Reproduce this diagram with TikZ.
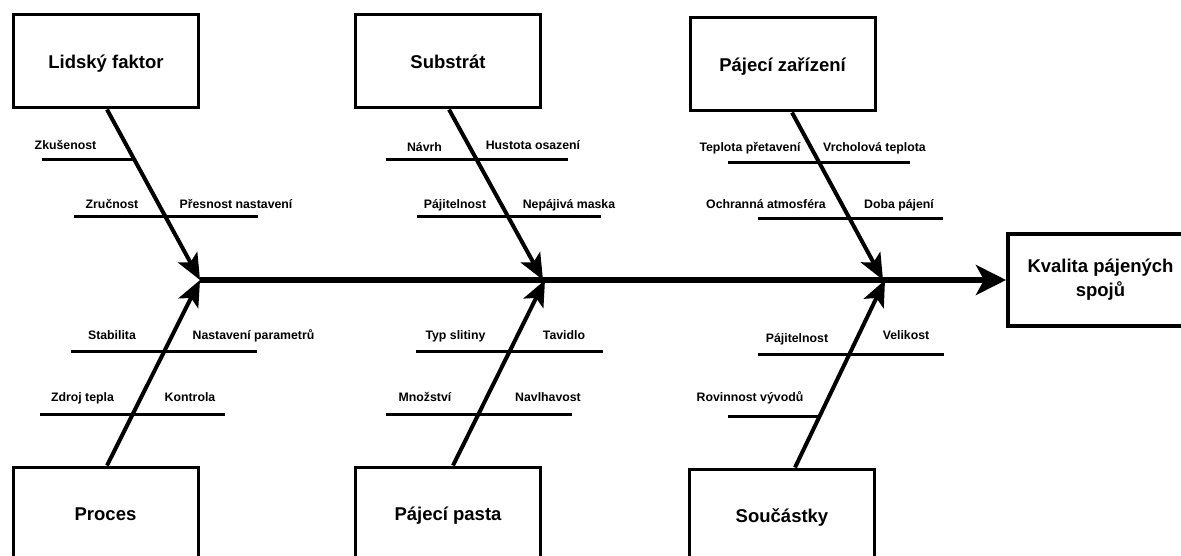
\documentclass[tikz,border=0pt]{standalone}
\usepackage{fontspec}
\setmainfont{Liberation Sans}
\usetikzlibrary{arrows.meta,calc}
\begin{document}
\begin{tikzpicture}[x=1pt,y=-1pt,
  cat/.style={draw, line width=3pt, minimum width=185pt, minimum height=93pt, inner sep=0pt,
    font=\fontsize{18.5}{22}\selectfont\bfseries, text height=13.3pt, text depth=0pt},
  lab/.style={font=\fontsize{12.3}{14}\selectfont\bfseries, anchor=base, inner sep=0pt},
  sub/.style={line width=3pt},
  bone/.style={line width=4pt, -{Stealth[length=26pt,width=22pt,inset=6pt]}},
  spine/.style={line width=6pt, -{Stealth[length=30pt,width=30pt,inset=8pt]}}]
\useasboundingbox (0,0) rectangle (1181,556);
\clip (0,0) rectangle (1181,556);

% category boxes
\node[cat] (lf) at (106,61.5) {Lidský faktor};
\node[cat] (sb) at (448,61.5) {Substrát};
\node[cat] (pz) at (782.5,64.5) {Pájecí zařízení};
\node[cat] (pr) at (105.5,513.5) {Proces};
\node[cat] (pp) at (448,513.5) {Pájecí pasta};
\node[cat] (so) at (782,515.5) {Součástky};
\node[draw, line width=4pt, minimum width=185pt, minimum height=92pt, inner sep=0pt, align=center,
  font=\fontsize{18.5}{24}\selectfont\bfseries] (kq) at (1100.5,280) {Kvalita pájených\\spojů};

% spine
\coordinate (sp) at (200,280);
\draw[spine] (sp) -- (kq.west);

% tips on spine
\coordinate (t1) at (200,280);
\coordinate (t2) at (543,280);
\coordinate (t3) at (883,280);
\coordinate (b1) at (200,280);
\coordinate (b2) at (545,280);
\coordinate (b3) at (885,280);

% bones
\draw[bone] ($(lf.south)+(1,0)$) -- (t1);
\draw[bone] ($(sb.south)+(1,0)$) -- (t2);
\draw[bone] ($(pz.south)+(9.5,0)$) -- (t3);
\draw[bone] ($(pr.north)+(1.5,0)$) -- (b1);
\draw[bone] ($(pp.north)+(5,0)$) -- (b2);
\draw[bone] ($(so.north)+(13,0)$) -- (b3);

% sub-cause lines
\draw[sub] (42,160) -- (133,160);
\draw[sub] (74,217) -- (258,217);
\draw[sub] (386,160) -- (568,160);
\draw[sub] (417,217) -- (601,217);
\draw[sub] (728,163) -- (910,163);
\draw[sub] (758,219) -- (943,219);
\draw[sub] (71,351) -- (257,351);
\draw[sub] (40,414) -- (225,414);
\draw[sub] (416,351) -- (603,351);
\draw[sub] (386,414) -- (572,414);
\draw[sub] (758,354) -- (944,354);
\draw[sub] (728,416) -- (818,416);

% labels
\node[lab] (l1) at (65.5,149.4) {Zkušenost};
\node[lab] (l2) at (112,208.4) {Zručnost};
\node[lab] (l3) at (236,208.4) {Přesnost nastavení};
\node[lab] (l4) at (424.5,151.4) {Návrh};
\node[lab] (l5) at (533,149.4) {Hustota osazení};
\node[lab] (l6) at (455,208.4) {Pájitelnost};
\node[lab] (l7) at (569,208.4) {Nepájivá maska};
\node[lab] (l8) at (750,151.4) {Teplota přetavení};
\node[lab] (l9) at (874.5,151.4) {Vrcholová teplota};
\node[lab] (l10) at (766,208.4) {Ochranná atmosféra};
\node[lab] (l11) at (899,208.4) {Doba pájení};
\node[lab] (l12) at (112,339.4) {Stabilita};
\node[lab] (l13) at (253.5,339.4) {Nastavení parametrů};
\node[lab] (l14) at (82.5,401.4) {Zdroj tepla};
\node[lab] (l15) at (190,401.4) {Kontrola};
\node[lab] (l16) at (455.5,339.4) {Typ slitiny};
\node[lab] (l17) at (564,339.4) {Tavidlo};
\node[lab] (l18) at (425,401.4) {Množství};
\node[lab] (l19) at (548,401.4) {Navlhavost};
\node[lab] (l20) at (797,342.4) {Pájitelnost};
\node[lab] (l21) at (906,339.4) {Velikost};
\node[lab] (l22) at (750,401.4) {Rovinnost vývodů};
\end{tikzpicture}
\end{document}
